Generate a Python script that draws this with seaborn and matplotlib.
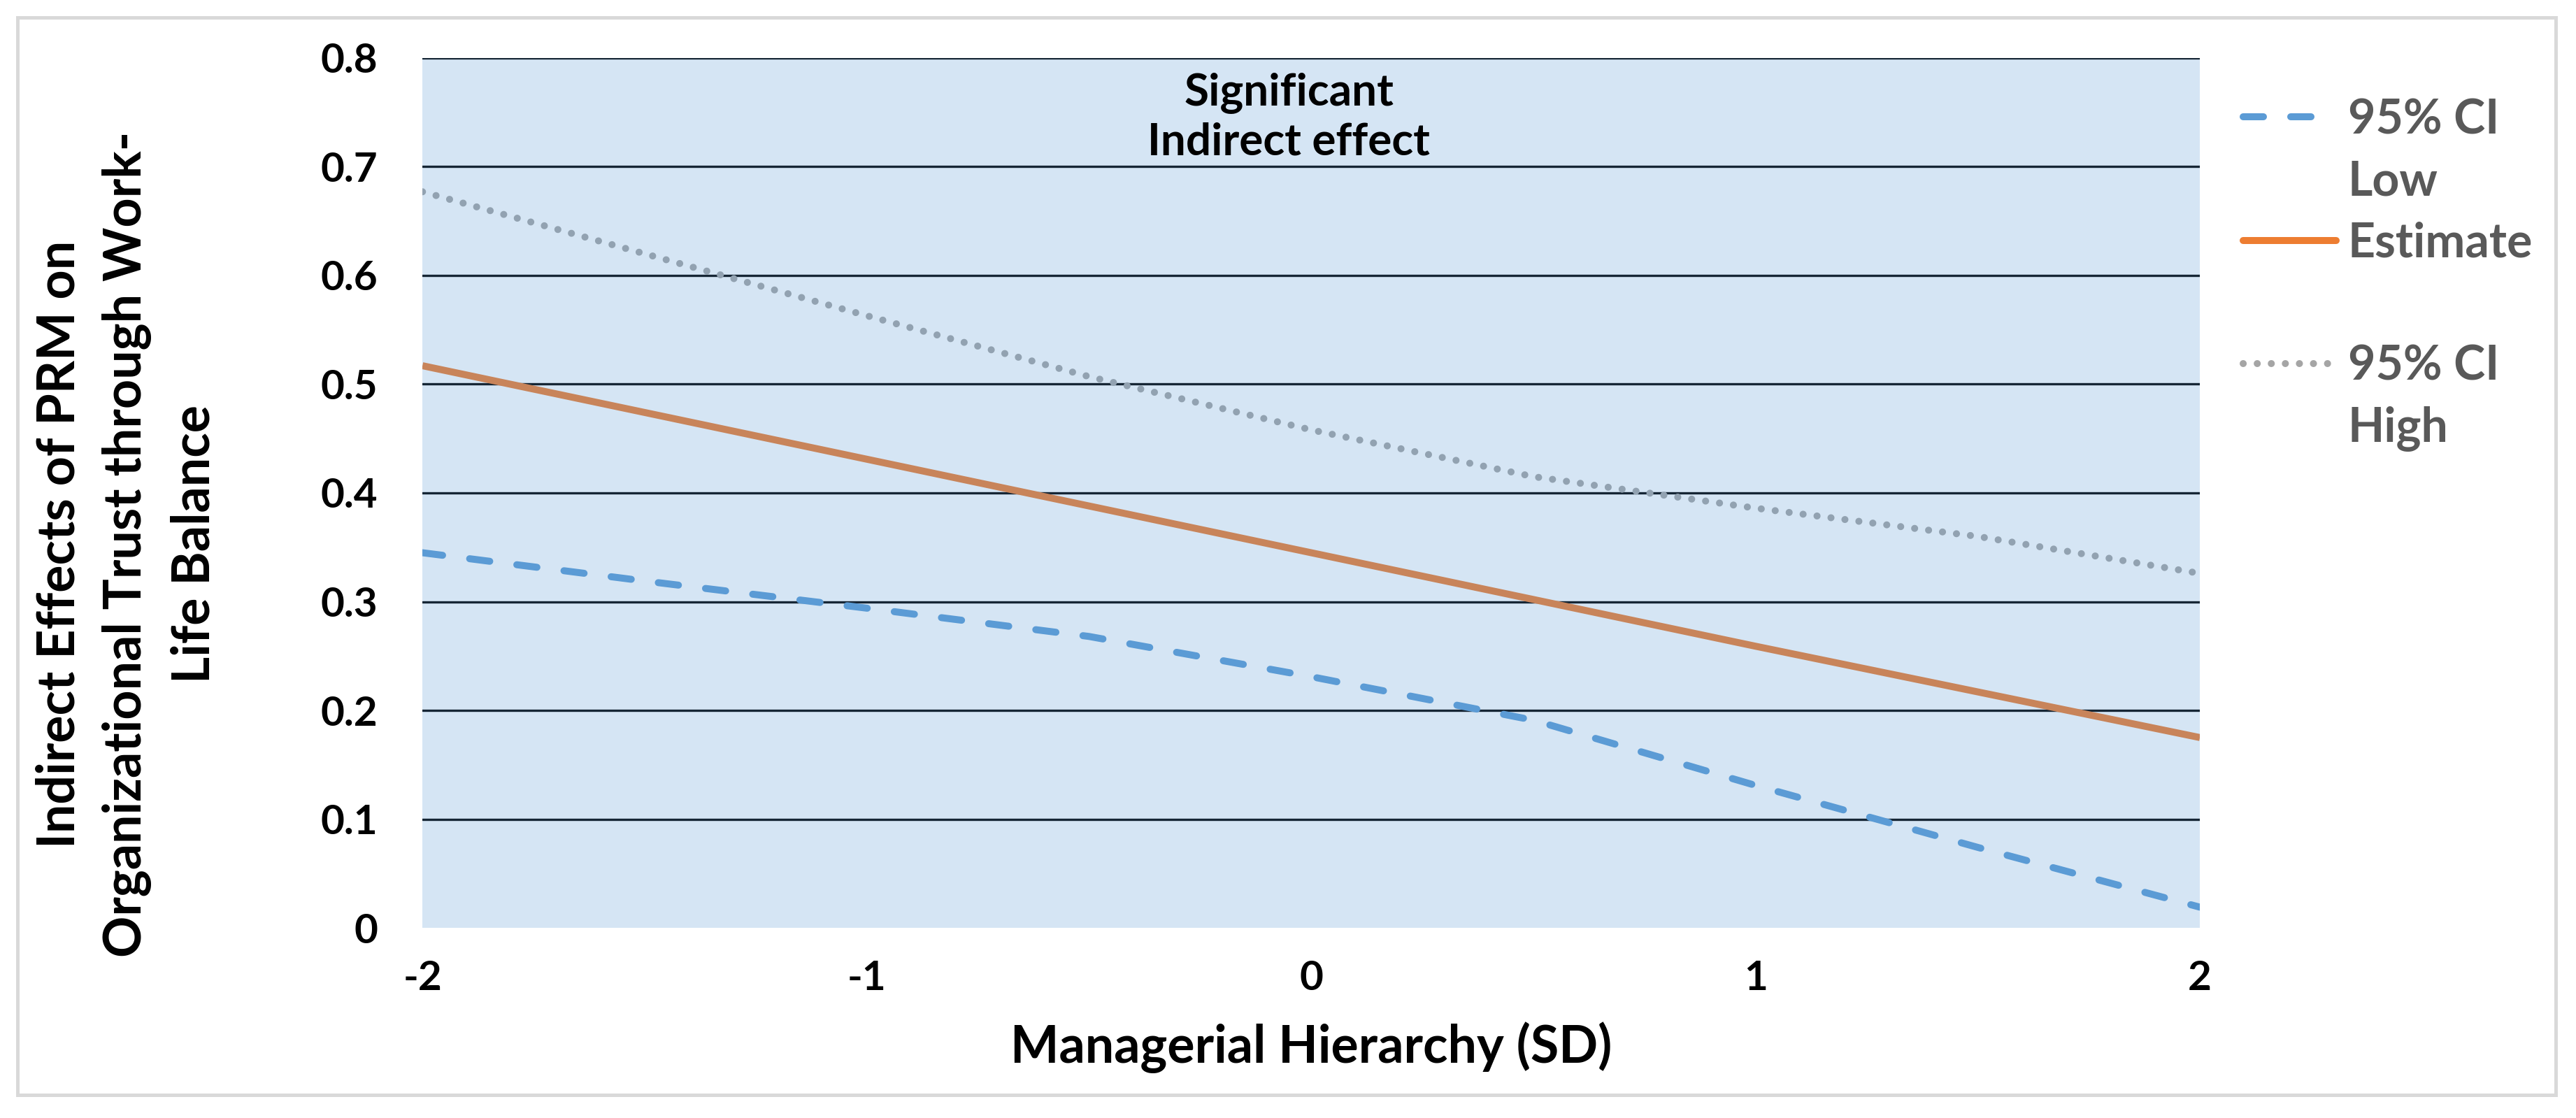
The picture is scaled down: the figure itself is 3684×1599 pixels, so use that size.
import numpy as np
import pandas as pd
import matplotlib
matplotlib.use('Agg')
import matplotlib.pyplot as plt
from matplotlib.lines import Line2D
from matplotlib.patches import Rectangle
import seaborn as sns

# values
x_sd = [-2, -1.5, -1, -0.5, 0, 0.5, 1, 1.5, 2]
ci_low = [0.345, 0.319, 0.294, 0.268, 0.231, 0.191, 0.131, 0.074, 0.019]
estimate = [0.517, 0.474, 0.431, 0.388, 0.345, 0.302, 0.259, 0.217, 0.175]
ci_high = [0.677, 0.620, 0.563, 0.507, 0.458, 0.415, 0.386, 0.360, 0.326]
series_names = ['95% CI Low', 'Estimate', '95% CI High']

# shaded "significant" band
band_low = [0, 0, 0, 0, 0, 0, 0, 0, 0]
band_high = [0.8, 0.8, 0.8, 0.8, 0.8, 0.8, 0.8, 0.8, 0.8]

x_ticks = [-2, -1, 0, 1, 2]
x_tick_labels = ['-2', '-1', '0', '1', '2']
y_ticks = [0, 0.1, 0.2, 0.3, 0.4, 0.5, 0.6, 0.7, 0.8]
y_tick_labels = ['0', '0.1', '0.2', '0.3', '0.4', '0.5', '0.6', '0.7', '0.8']

df = pd.DataFrame({
    'x': x_sd * 3,
    'value': ci_low + estimate + ci_high,
    'series': [series_names[0]] * len(x_sd) + [series_names[1]] * len(x_sd) + [series_names[2]] * len(x_sd),
})

sns.set_theme(style='white')
plt.rcParams['font.family'] = ['Lato', 'DejaVu Sans']
plt.rcParams['font.weight'] = 'bold'
plt.rcParams['axes.unicode_minus'] = False

colors = {'95% CI Low': '#5B9BD5', 'Estimate': '#ED7D31', '95% CI High': '#A5A5A5'}
dashes = {'95% CI Low': (2.9, 3.9), 'Estimate': '', '95% CI High': (0.01, 2.0)}
lw = 7.2

fig = plt.figure(figsize=(36.84, 15.99), dpi=100)
ax = fig.add_axes([0.1640, 0.1701, 0.6900, 0.7780])

sns.lineplot(data=df, x='x', y='value', hue='series', style='series',
             palette=colors, dashes=dashes, linewidth=lw, legend=False,
             estimator=None, sort=False, ax=ax, zorder=2,
             dash_capstyle='round', solid_capstyle='butt')

ax.fill_between(x_sd, band_low, band_high, facecolor='#5B9BD5', alpha=0.25,
                linewidth=0, zorder=3)

ax.text(-0.05, 0.746, 'Significant\nIndirect effect', ha='center', va='center',
        fontsize=46, fontweight='bold', color='black', linespacing=1.27, zorder=5)

ax.set_xlim(-2, 2)
ax.set_ylim(0, 0.8)
ax.set_xticks(x_ticks)
ax.set_xticklabels(x_tick_labels)
ax.set_yticks(y_ticks)
ax.set_yticklabels(y_tick_labels)
ax.tick_params(axis='both', length=0, labelsize=42, colors='black')
ax.tick_params(axis='x', pad=33)
ax.tick_params(axis='y', pad=46)
for lab in ax.get_xticklabels() + ax.get_yticklabels():
    lab.set_fontweight('bold')

ax.set_axisbelow(True)
ax.yaxis.grid(True, color='black', linewidth=2.4)
ax.xaxis.grid(False)
ax.get_ygridlines()[0].set_visible(False)
for s in ax.spines.values():
    s.set_visible(False)

ax.set_xlabel('Managerial Hierarchy (SD)', fontsize=53, fontweight='bold', color='black')
ax.xaxis.set_label_coords(0.5, -0.108)
ax.set_ylabel('Indirect Effects of PRM on\nOrganizational Trust through Work-\nLife Balance',
              fontsize=53, fontweight='bold', color='black', linespacing=1.47)
ax.yaxis.set_label_coords(-0.1149, 0.441)

handles = [
    Line2D([], [], color=colors['95% CI Low'], lw=lw, dashes=dashes['95% CI Low'], dash_capstyle='round'),
    Line2D([], [], color='none'),
    Line2D([], [], color=colors['Estimate'], lw=lw, solid_capstyle='round'),
    Line2D([], [], color='none'),
    Line2D([], [], color=colors['95% CI High'], lw=lw, dashes=dashes['95% CI High'], dash_capstyle='round'),
    Line2D([], [], color='none'),
]
labels = ['95% CI', 'Low', 'Estimate', '', '95% CI', 'High']
leg = fig.legend(handles, labels, loc='upper left', bbox_to_anchor=(0.8708, 0.9124),
                 frameon=False, fontsize=49, handlelength=1.95, handletextpad=0.25,
                 labelspacing=0.37, borderpad=0, borderaxespad=0)
for t in leg.get_texts():
    t.set_color('#595959')
    t.set_fontweight('bold')

fig.patches.append(Rectangle((25 / 3684, 1 - 1566 / 1599), 3630 / 3684, 1541 / 1599,
                             transform=fig.transFigure, fill=False,
                             edgecolor='#D9D9D9', linewidth=3.6, zorder=0))

fig.savefig('out.png', dpi=100)
